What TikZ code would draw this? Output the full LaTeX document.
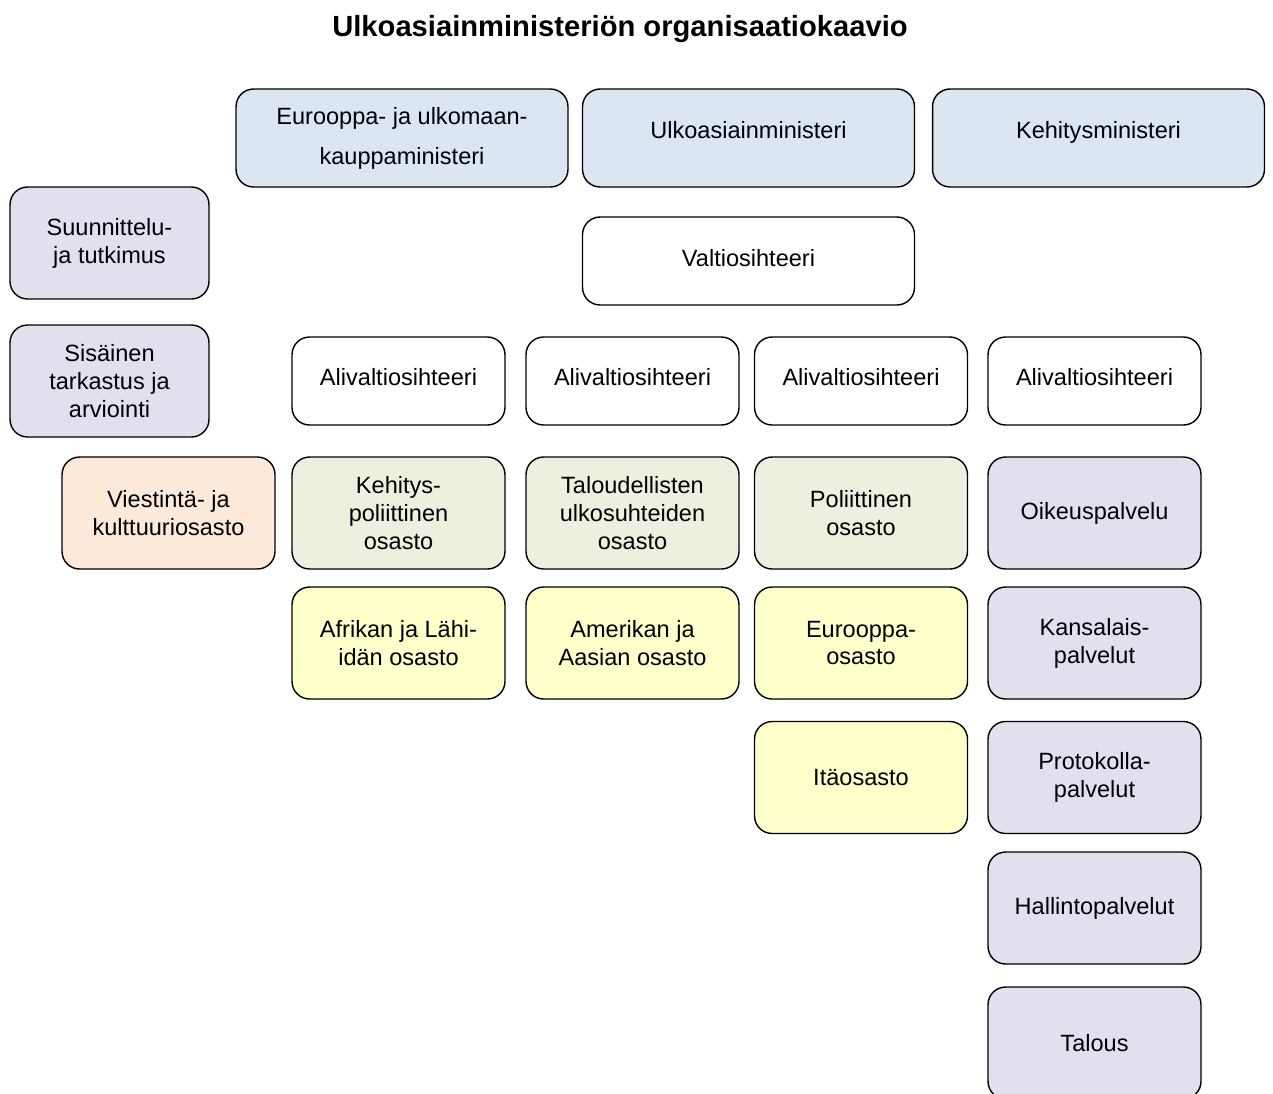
\documentclass[tikz,border=0pt]{standalone}
\usepackage{fontspec}
\setmainfont{Liberation Sans}
\definecolor{ministerblue}{HTML}{DCE6F2}
\definecolor{unitlilac}{HTML}{E4DFEC}
\definecolor{unitorange}{HTML}{FDE9D9}
\definecolor{unitgreen}{HTML}{EBF1DE}
\definecolor{unityellow}{HTML}{FFFFCC}
\begin{document}
\begin{tikzpicture}[x=0.02cm,y=-0.02cm,
    orgbox/.style={draw,line width=0.8pt,rounded corners=10pt,align=center,inner sep=0pt,
      font=\fontsize{13.4}{15.9}\selectfont},
    widebox/.style={orgbox,minimum width=6.64cm,minimum height=1.96cm},
    statebox/.style={orgbox,minimum width=6.64cm,minimum height=1.76cm},
    sidebox/.style={orgbox,minimum width=3.98cm,minimum height=2.24cm},
    deptbox/.style={orgbox,minimum width=4.26cm,minimum height=2.24cm},
    subbox/.style={orgbox,minimum width=4.26cm,minimum height=1.76cm}]
      \useasboundingbox (0,0) rectangle (1273,1093);
      \node[font=\bfseries\fontsize{16.6}{20}\selectfont] (title) at (620,29) {Ulkoasiainministeriön organisaatiokaavio};
      % ministers
      \node[widebox,fill=ministerblue,font=\fontsize{13.4}{22.7}\selectfont] (eumin) at (402,138) {Eurooppa- ja ulkomaan-\\kauppaministeri};
      \node[widebox,fill=ministerblue] (ulkomin) at (748.5,138) {\raisebox{9pt}{Ulkoasiainministeri}};
      \node[widebox,fill=ministerblue] (kehmin) at (1098.5,138) {\raisebox{9pt}{Kehitysministeri}};
      \node[statebox,fill=white] (valtio) at (748.5,261) {\raisebox{3.5pt}{Valtiosihteeri}};
      % left column
      \node[sidebox,fill=unitlilac] (suunn) at (109.5,243) {Suunnittelu-\\ja tutkimus};
      \node[sidebox,fill=unitlilac] (sisainen) at (109.5,381) {Sisäinen\\tarkastus ja\\arviointi};
      \node[deptbox,fill=unitorange] (viest) at (168.5,513) {Viestintä- ja\\kulttuuriosasto};
      % under-secretaries
      \node[subbox,fill=white] (ali1) at (398.5,381) {\raisebox{4.5pt}{Alivaltiosihteeri}};
      \node[subbox,fill=white] (ali2) at (632.5,381) {\raisebox{4.5pt}{Alivaltiosihteeri}};
      \node[subbox,fill=white] (ali3) at (861,381) {\raisebox{4.5pt}{Alivaltiosihteeri}};
      \node[subbox,fill=white] (ali4) at (1094.5,381) {\raisebox{4.5pt}{Alivaltiosihteeri}};
      % departments
      \node[deptbox,fill=unitgreen] (kehpol) at (398.5,513) {Kehitys-\\poliittinen\\osasto};
      \node[deptbox,fill=unitgreen] (talous) at (632.5,513) {Taloudellisten\\ulkosuhteiden\\osasto};
      \node[deptbox,fill=unitgreen] (polos) at (861,513) {Poliittinen\\osasto};
      \node[deptbox,fill=unityellow] (afrikka) at (398.5,643) {Afrikan ja Lähi-\\idän osasto};
      \node[deptbox,fill=unityellow] (amerikka) at (632.5,643) {Amerikan ja\\Aasian osasto};
      \node[deptbox,fill=unityellow] (eurooppa) at (861,643) {Eurooppa-\\osasto};
      \node[deptbox,fill=unityellow] (ita) at (861,777.5) {Itäosasto};
      % services
      \node[deptbox,fill=unitlilac] (oikeus) at (1094.5,513) {Oikeuspalvelu};
      \node[deptbox,fill=unitlilac] (kansal) at (1094.5,643) {Kansalais-\\palvelut};
      \node[deptbox,fill=unitlilac] (proto) at (1094.5,777.5) {Protokolla-\\palvelut};
      \node[deptbox,fill=unitlilac] (hallinto) at (1094.5,908) {Hallintopalvelut};
      \node[deptbox,fill=unitlilac] (talousp) at (1094.5,1043) {Talous};
\end{tikzpicture}
\end{document}
